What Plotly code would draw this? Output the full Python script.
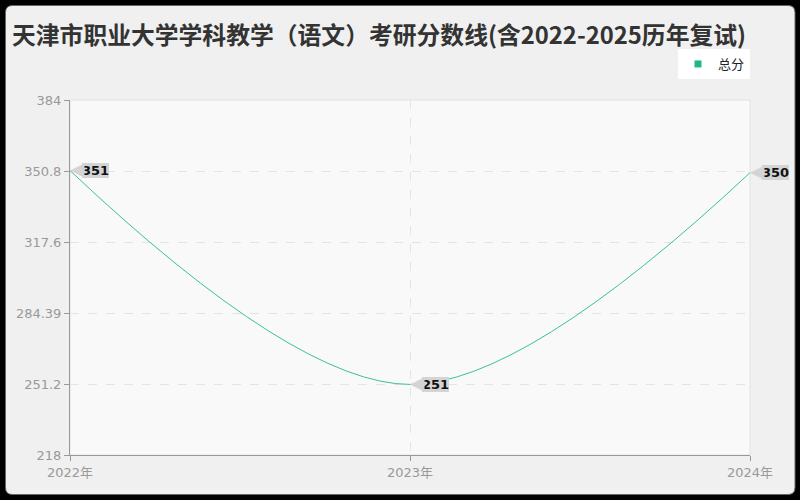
import plotly.graph_objects as go

# ---- data ----
years = ["2022年", "2023年", "2024年"]
scores = [351, 251, 350]
series_name = "总分"
y_tickvals = [218, 251.2, 284.39, 317.6, 350.8, 384]
y_ticktext = ["218", "251.2", "284.39", "317.6", "350.8", "384"]
title_text = "天津市职业大学学科教学（语文）考研分数线(含2022-2025历年复试)"

W, H = 800, 500
ML, MR, MT, MB = 70, 50, 100, 45
PW, PH = W - ML - MR, H - MT - MB

FONT = "Noto Sans CJK SC, Noto Sans, sans-serif"
TICKFONT = "DejaVu Sans, Noto Sans CJK SC, sans-serif"
LINE_COLOR = "#3cc196"


def px_x(p):
    return (p - ML) / PW


def px_y(p):
    return (H - MB - p) / PH


def rounded_rect(x0, y0, x1, y1, r):
    return (
        f"M{px_x(x0 + r)},{px_y(y0)} L{px_x(x1 - r)},{px_y(y0)} "
        f"Q{px_x(x1)},{px_y(y0)} {px_x(x1)},{px_y(y0 + r)} "
        f"L{px_x(x1)},{px_y(y1 - r)} "
        f"Q{px_x(x1)},{px_y(y1)} {px_x(x1 - r)},{px_y(y1)} "
        f"L{px_x(x0 + r)},{px_y(y1)} "
        f"Q{px_x(x0)},{px_y(y1)} {px_x(x0)},{px_y(y1 - r)} "
        f"L{px_x(x0)},{px_y(y0 + r)} "
        f"Q{px_x(x0)},{px_y(y0)} {px_x(x0 + r)},{px_y(y0)} Z"
    )


outer = (f"M{px_x(0)},{px_y(0)} L{px_x(W)},{px_y(0)} L{px_x(W)},{px_y(H)} "
         f"L{px_x(0)},{px_y(H)} Z ")
inner = rounded_rect(5.5, 5.5, 795, 494.5, 7)

fig = go.Figure()

fig.add_trace(go.Scatter(
    x=years, y=scores, mode="lines",
    line=dict(color=LINE_COLOR, width=1, shape="spline"),
    showlegend=False, hoverinfo="x+y",
))
fig.add_trace(go.Scatter(
    x=[None], y=[None], mode="markers", name=series_name,
    marker=dict(symbol="square", size=7, color="#1db985"),
))

for yr, v in zip(years, scores):
    fig.add_annotation(
        x=yr, y=v, xref="x", yref="y",
        text=f"<b>{v}</b>",
        font=dict(family="DejaVu Sans, sans-serif", size=13, color="#111"),
        bgcolor="#d4d4d4", borderpad=0, borderwidth=0,
        showarrow=True, ax=25, ay=0, axref="pixel", ayref="pixel",
        arrowhead=2, arrowsize=2.9, arrowwidth=1, arrowcolor="#d4d4d4",
        standoff=0,
    )

shapes = [
    dict(type="rect", xref="x domain", yref="y domain", x0=0, x1=1, y0=0, y1=1,
         line=dict(color="#e2e2e2", width=1), fillcolor="rgba(0,0,0,0)", layer="below"),
    dict(type="path", xref="paper", yref="paper", path=outer + inner,
         fillcolor="#000000", fillrule="evenodd", line=dict(width=0), layer="above"),
    dict(type="path", xref="paper", yref="paper", path=inner,
         fillcolor="rgba(0,0,0,0)", line=dict(color="#666666", width=1), layer="above"),
]

fig.update_layout(
    width=W, height=H,
    margin=dict(l=ML, r=MR, t=MT, b=MB),
    paper_bgcolor="#f0f0f0",
    plot_bgcolor="#f9f9f9",
    font=dict(family=FONT, color="#999999", size=13),
    title=dict(text=f"<b>{title_text}</b>", x=0.015, xanchor="left",
               y=0.928, yanchor="middle",
               font=dict(family=FONT, size=23.8, color="#333333")),
    legend=dict(x=1.0, xanchor="right", y=px_y(49), yanchor="top",
                bgcolor="#ffffff", borderwidth=0,
                font=dict(family=FONT, size=13, color="#222222"),
                itemwidth=30, tracegroupgap=0),
    shapes=shapes,
    xaxis=dict(
        type="category", range=[0, len(years) - 1],
        showgrid=True, gridcolor="#e4e4e4", griddash="dash", gridwidth=1,
        showline=True, linecolor="#999999", linewidth=1,
        ticks="outside", ticklen=5, tickcolor="#999999",
        tickfont=dict(family=TICKFONT, size=13, color="#999999"),
        zeroline=False, fixedrange=True,
    ),
    yaxis=dict(
        range=[y_tickvals[0], y_tickvals[-1]],
        tickvals=y_tickvals, ticktext=y_ticktext,
        showgrid=True, gridcolor="#e4e4e4", griddash="dash", gridwidth=1,
        showline=True, linecolor="#999999", linewidth=1,
        ticks="outside", ticklen=5, tickcolor="#999999",
        tickfont=dict(family=TICKFONT, size=13, color="#999999"),
        zeroline=False, fixedrange=True,
    ),
)

fig.write_html("out.html", config={"displayModeBar": False},
               post_script="document.body.style.margin='0';")
